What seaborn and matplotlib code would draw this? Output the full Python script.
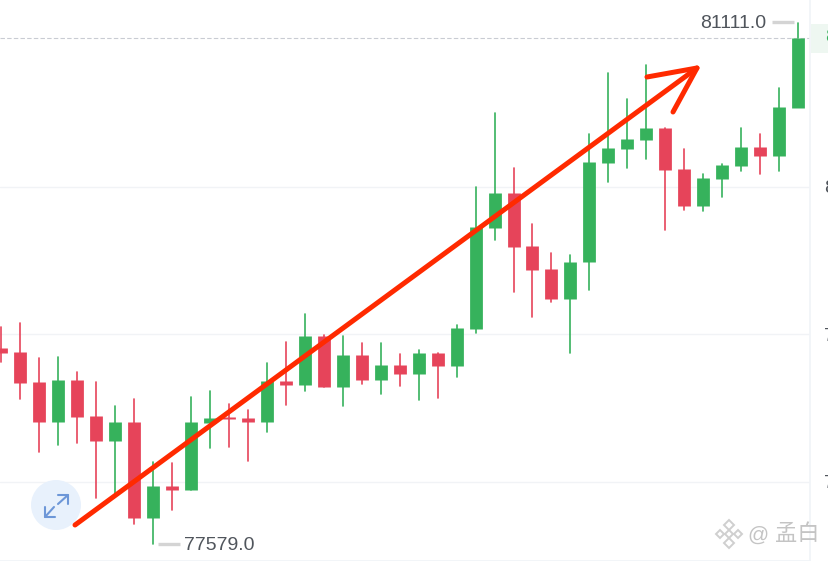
import matplotlib
matplotlib.use('Agg')
import matplotlib.pyplot as plt
from matplotlib.lines import Line2D
from matplotlib.patches import Circle, Polygon, Rectangle
from matplotlib.transforms import Affine2D
import pandas as pd
import seaborn as sns

# Candles
opens = [78908, 78881, 78677, 78406, 78691, 78447, 78277, 78406, 77755, 77972, 77945,
         78399, 78440, 78433, 78406, 78684, 78657, 78989, 78643, 78860, 78691, 78792,
         78731, 78874, 78786, 79036, 79721, 79958, 79599, 79443, 79240, 79491, 80162,
         80257, 80318, 80399, 80121, 79870, 80053, 80141, 80270, 80209, 80535]
closes = [78874, 78670, 78406, 78691, 78440, 78277, 78406, 77755, 77972, 77945, 78406,
          78433, 78426, 78406, 78684, 78657, 78989, 78643, 78860, 78691, 78792, 78731,
          78874, 78786, 79043, 79728, 79958, 79592, 79436, 79240, 79491, 80169, 80264,
          80324, 80399, 80114, 79870, 80060, 80148, 80270, 80209, 80541, 81009]
highs = [79050, 79077, 78840, 78847, 78745, 78677, 78515, 78562, 78135, 78128, 78576,
         78616, 78528, 78487, 78806, 78948, 79138, 78996, 78989, 78942, 78942, 78867,
         78894, 78874, 79064, 79999, 80501, 80128, 79748, 79552, 79538, 80358, 80772,
         80596, 80826, 80399, 80257, 80087, 80155, 80399, 80358, 80670, 81111]
lows = [78813, 78562, 78203, 78250, 78264, 77891, 77898, 77715, 77579, 77809, 77945,
        78230, 78237, 78142, 78338, 78521, 78616, 78643, 78515, 78664, 78596, 78650,
        78555, 78569, 78711, 79009, 79640, 79287, 79118, 79220, 78874, 79301, 80033,
        80128, 80189, 79708, 79843, 79836, 79931, 80108, 80087, 80108, 81009]
y_ticks = [78000, 79000, 80000]
last_price = 81009
watermark = '孟白'

GREEN = '#36b25c'
RED = '#e6445a'
GREY_TEXT = '#50555c'
LINE = '#f1f4f8'
ARROW = '#ff2a00'

sns.set_theme(style='white')
plt.rcParams['font.family'] = ['Liberation Sans', 'Noto Sans CJK SC', 'DejaVu Sans']

fig = plt.figure(figsize=(8.29, 5.61), dpi=100)
fig.patch.set_facecolor('white')
ax = fig.add_axes([0, 0, 810 / 829, 1])

# Long tables for the seaborn lines: two rows per candle
idx = list(range(len(opens)))
direction = ['up' if c >= o else 'down' for o, c in zip(opens, closes)]
wicks = pd.DataFrame({'idx': idx * 2, 'price': lows + highs, 'dir': direction * 2})
bodies = pd.DataFrame({'idx': idx * 2, 'price': opens + closes, 'dir': direction * 2})
palette = {'up': GREEN, 'down': RED}

sns.lineplot(data=wicks, x='idx', y='price', hue='dir', units='idx', estimator=None,
             palette=palette, linewidth=1.2, legend=False, ax=ax, zorder=3)
sns.lineplot(data=bodies, x='idx', y='price', hue='dir', units='idx', estimator=None,
             palette=palette, linewidth=9.2, legend=False, ax=ax, zorder=4,
             solid_capstyle='butt')

ax.set_xlim(-0.053, 42.62)
ax.set_ylim(77464, 81267)
ax.set_xlabel('')
ax.set_ylabel('')
ax.set_xticks([])
ax.set_yticks(y_ticks)
ax.set_yticklabels([f'{v:.1f}' for v in y_ticks])
ax.yaxis.tick_right()
ax.tick_params(axis='y', length=0, pad=10, labelsize=14, labelcolor=GREY_TEXT)
ax.grid(axis='y', color='#f1f3f6', linewidth=1)
ax.set_axisbelow(True)
for side in ['top', 'left']:
    ax.spines[side].set_visible(False)
ax.spines['right'].set_color(LINE)
ax.spines['bottom'].set_color(LINE)
ax.axhline(last_price, color='#c9ccd3', linewidth=0.8, linestyle=(0, (4, 2)), zorder=2)

# pixel coordinates for the things drawn over the chart
px = Affine2D().scale(1 / 829, -1 / 561).translate(0, 1) + fig.transFigure

# last price tag, cut off by the edge like the rest of the axis
fig.add_artist(Rectangle((811, 24), 18, 29, transform=px, color='#eef7f1', lw=0))
fig.text(825 / 829, 1 - 38 / 561, f'{last_price:.1f}', color=GREEN, fontsize=14,
         va='center', ha='left')

# high and low labels
fig.add_artist(Line2D([772, 794], [22, 22], transform=px, color='#d4d4d4', lw=2.4,
                      solid_capstyle='butt'))
fig.text(766 / 829, 1 - 23 / 561, f'{max(highs):.1f}', color=GREY_TEXT, fontsize=14,
         va='center', ha='right')
fig.add_artist(Line2D([158, 180], [544, 544], transform=px, color='#d4d4d4', lw=2.4,
                      solid_capstyle='butt'))
fig.text(184 / 829, 1 - 545 / 561, f'{min(lows):.1f}', color=GREY_TEXT, fontsize=14,
         va='center', ha='left')

# hand drawn red arrow
for xs, ys in [([75, 697], [525, 68]), ([647, 697, 673], [77, 68, 112])]:
    fig.add_artist(Line2D(xs, ys, transform=px, color=ARROW, lw=3.6, zorder=10,
                          solid_capstyle='round', solid_joinstyle='round'))

# expand button
fig.add_artist(Circle((56, 505), 25, transform=px, color='#e8f1fc', lw=0, zorder=9))
for xs, ys in [([45, 45, 55], [507, 517, 517]), ([45, 54], [517, 507]),
               ([58, 68, 68], [495, 495, 504]), ([68, 58], [495, 504])]:
    fig.add_artist(Line2D(xs, ys, transform=px, color='#6d97d8', lw=1.5, zorder=9.5))

# watermark
for cx, cy, r in [(729, 525, 5), (729, 543, 5), (720, 534, 4), (738, 534, 4), (729, 534, 4)]:
    fig.add_artist(Polygon([(cx - r, cy), (cx, cy - r), (cx + r, cy), (cx, cy + r)], closed=True,
                           transform=px, fill=False, edgecolor='#cfcfcf', lw=1.4, zorder=8))
fig.text(758 / 829, 1 - 535 / 561, '@', color='#c4c4c4', fontsize=15, va='center', ha='center')
fig.text(775 / 829, 1 - 535 / 561, watermark, color='#c4c4c4', fontsize=16, va='center', ha='left')

fig.savefig('out.png', dpi=100)
